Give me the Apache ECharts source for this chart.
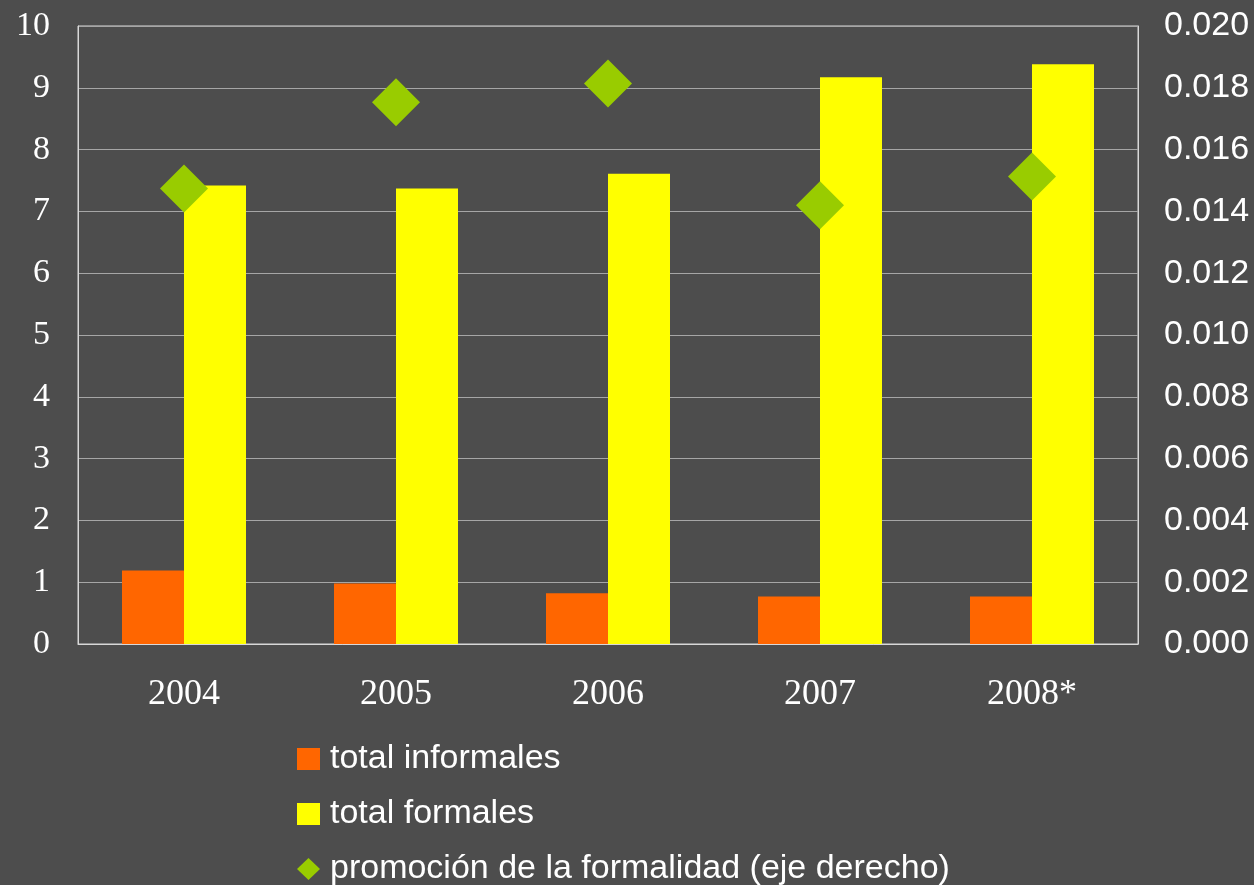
<!DOCTYPE html>
<html>
<head>
<meta charset="utf-8">
<script src="https://cdn.jsdelivr.net/npm/echarts@6/dist/echarts.min.js"></script>
<style>
html,body{margin:0;padding:0;background:#4d4d4d;}
#chart{width:1254px;height:885px;}
</style>
</head>
<body>
<div id="chart"></div>
<script>
const categories = ['2004', '2005', '2006', '2007', '2008*'];
const informales = [1.19, 0.98, 0.82, 0.77, 0.77];
const formales = [7.42, 7.37, 7.61, 9.17, 9.38];
const promocion = [0.01474, 0.01753, 0.01814, 0.01420, 0.01513];
const seriesNames = ['total informales', 'total formales', 'promoción de la formalidad (eje derecho)'];

const chart = echarts.init(document.getElementById('chart'));
chart.setOption({
  backgroundColor: '#4d4d4d',
  animation: false,
  grid: {
    left: 78, right: 116, top: 26, bottom: 241,
    show: true, borderColor: '#d8d8d8', borderWidth: 1, backgroundColor: 'transparent'
  },
  legend: {
    orient: 'vertical',
    left: 292,
    top: 737,
    height: 300,
    itemWidth: 23,
    itemHeight: 22,
    itemGap: 21,
    textStyle: {
      color: '#ffffff',
      fontFamily: "'Liberation Sans', Arial, sans-serif",
      fontSize: 34,
      lineHeight: 34,
      padding: [0, 0, 0, 5]
    },
    data: [
      { name: seriesNames[0], icon: 'rect' },
      { name: seriesNames[1], icon: 'rect' },
      { name: seriesNames[2], icon: 'diamond' }
    ]
  },
  xAxis: {
    type: 'category',
    data: categories,
    axisLine: { show: true, lineStyle: { color: '#d8d8d8', width: 1 } },
    axisTick: { show: false },
    axisLabel: {
      color: '#ffffff',
      fontFamily: "'Liberation Serif', 'Times New Roman', serif",
      fontSize: 36,
      margin: 33
    }
  },
  yAxis: [
    {
      type: 'value', min: 0, max: 10, interval: 1, position: 'left',
      axisLine: { show: true, lineStyle: { color: '#d8d8d8', width: 1 } },
      axisTick: { show: false },
      splitLine: { show: true, lineStyle: { color: '#a6a6a6', width: 1 } },
      axisLabel: {
        color: '#ffffff',
        fontFamily: "'Liberation Serif', 'Times New Roman', serif",
        fontSize: 34,
        margin: 28
      }
    },
    {
      type: 'value', min: 0, max: 0.02, interval: 0.002, position: 'right',
      axisLine: { show: true, lineStyle: { color: '#d8d8d8', width: 1 } },
      axisTick: { show: false },
      splitLine: { show: false },
      axisLabel: {
        color: '#ffffff',
        fontFamily: "'Liberation Sans', Arial, sans-serif",
        fontSize: 34,
        margin: 26,
        formatter: v => v.toFixed(3)
      }
    }
  ],
  series: [
    {
      name: seriesNames[0], type: 'bar', data: informales, yAxisIndex: 0,
      barWidth: 62, barGap: '0%',
      itemStyle: { color: '#ff6600' }
    },
    {
      name: seriesNames[1], type: 'bar', data: formales, yAxisIndex: 0,
      barWidth: 62, barGap: '0%',
      itemStyle: { color: '#ffff00' }
    },
    {
      name: seriesNames[2], type: 'scatter', data: promocion, yAxisIndex: 1,
      symbol: 'diamond', symbolSize: 48, z: 5,
      itemStyle: { color: '#99cc00', opacity: 1 }
    }
  ]
});
</script>
</body>
</html>
